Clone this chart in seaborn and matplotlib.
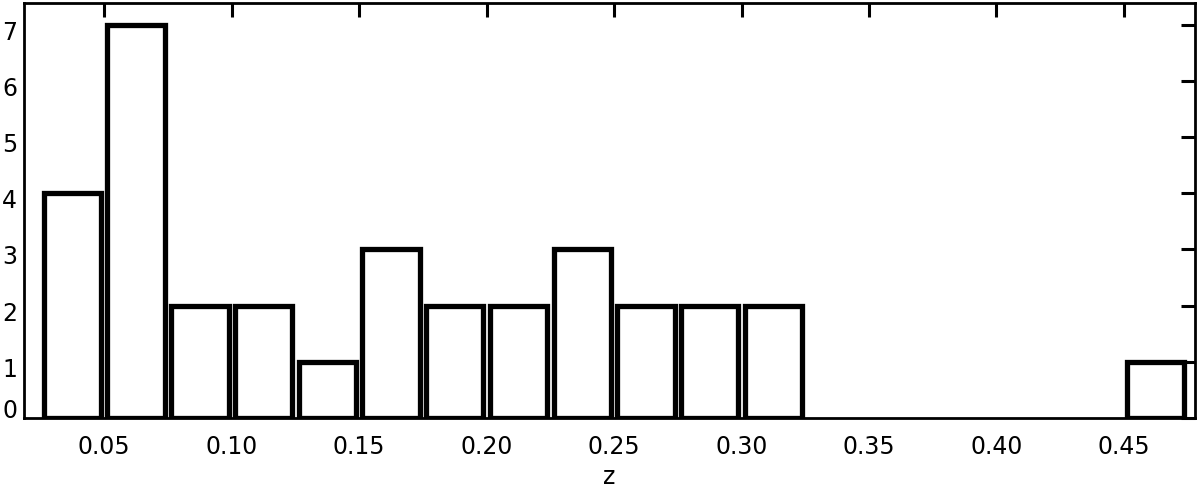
import numpy as np
import matplotlib
matplotlib.use('Agg')
import matplotlib.pyplot as plt
import matplotlib.transforms as mtransforms
import seaborn as sns

# histogram of redshifts, bin width 0.025
bin_edges = [0.025, 0.05, 0.075, 0.10, 0.125, 0.15, 0.175, 0.20, 0.225, 0.25,
             0.275, 0.30, 0.325, 0.35, 0.375, 0.40, 0.425, 0.45, 0.475]
bin_centers = [0.0375, 0.0625, 0.0875, 0.1125, 0.1375, 0.1625, 0.1875, 0.2125, 0.2375,
               0.2625, 0.2875, 0.3125, 0.3375, 0.3625, 0.3875, 0.4125, 0.4375, 0.4625]
counts = [4, 7, 2, 2, 1, 3, 2, 2, 3, 2, 2, 2, 0, 0, 0, 0, 0, 1]
x_ticks = [0.05, 0.10, 0.15, 0.20, 0.25, 0.30, 0.35, 0.40, 0.45]
y_ticks = [0, 1, 2, 3, 4, 5, 6, 7]

sns.set_style('white')
plt.rcParams['font.family'] = ['DejaVu Sans']
plt.rcParams['text.color'] = 'black'
plt.rcParams['xtick.color'] = 'black'
plt.rcParams['ytick.color'] = 'black'
plt.rcParams['axes.labelcolor'] = 'black'

fig = plt.figure(figsize=(12, 4.91), dpi=100)
ax = fig.add_axes([0.02, 0.149, 0.976, 0.845])

sns.histplot(x=bin_centers, weights=counts, bins=bin_edges, shrink=0.9,
             color='white', edgecolor='black', linewidth=3.8, alpha=1, ax=ax)

# empty bins should not leave a line on the baseline
for p in ax.patches:
    p.set_joinstyle('miter')
    if p.get_height() == 0:
        p.set_visible(False)

ax.set_xlim(0.0185, 0.478)
ax.set_ylim(0, 7.39)
ax.set_xticks(x_ticks)
ax.set_xticklabels([f'{t:.2f}' for t in x_ticks])
ax.set_yticks(y_ticks)
ax.set_xlabel('z', fontsize=17, labelpad=5)
ax.set_ylabel('')
ax.tick_params(direction='in', length=10, width=2.2, labelsize=17,
               top=True, right=True)
ax.tick_params(axis='x', pad=12)
ax.tick_params(axis='y', pad=5)
for s in ax.spines.values():
    s.set_linewidth(2)
    s.set_color('black')

# y labels sit a little below their ticks in the original, the 0 a bit above
for lab, t in zip(ax.get_yticklabels(), y_ticks):
    dy = 7 / 72 if t == 0 else -4 / 72
    lab.set_transform(lab.get_transform() + mtransforms.ScaledTranslation(0, dy, fig.dpi_scale_trans))

fig.savefig('out.png', dpi=100)
